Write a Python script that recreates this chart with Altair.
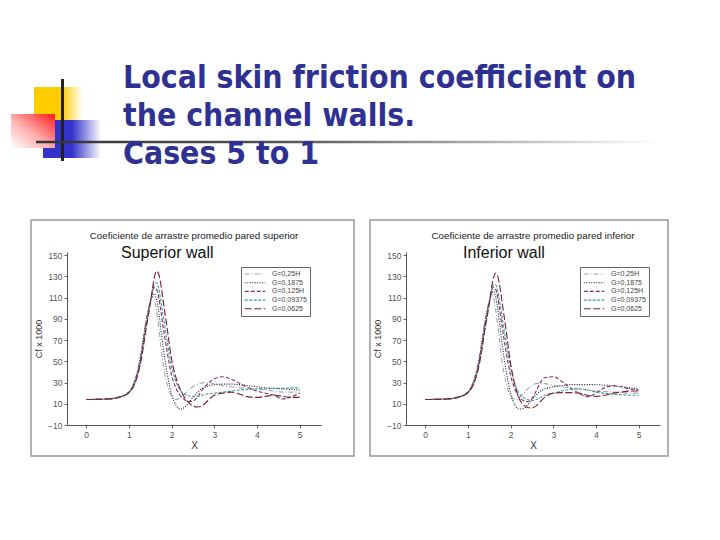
import altair as alt
import pandas as pd

# ---------------- data ----------------
X = [0, 0.5, 0.8, 1.0, 1.1, 1.2, 1.3, 1.4, 1.5, 1.55,
     1.6, 1.65, 1.7, 1.75, 1.8, 1.9, 2.0, 2.1, 2.2, 2.3,
     2.4, 2.5, 2.6, 2.7, 2.8, 3.0, 3.2, 3.4, 3.6, 3.8,
     4.0, 4.2, 4.4, 4.6, 4.8, 5.0]

series_labels = ["G=0,25H", "G=0,1875", "G=0,125H", "G=0,09375", "G=0,0625"]

# Superior wall
sup_g25 = [14, 14.5, 16.5, 21, 28, 41, 62, 88, 106, 111,
           108, 97, 82, 64, 48, 28, 17, 14, 15.5, 19,
           23, 26, 28, 29.5, 30, 29, 27, 26, 25, 24.5,
           24, 23, 22, 21, 21, 21]
sup_g1875 = [14, 14.5, 16.5, 21, 27.5, 40, 61, 87, 106, 112,
             113.5, 108, 96, 80, 64, 38, 19, 9, 5, 6.5,
             11, 16, 20.5, 24, 26, 28, 28.5, 28.5, 28, 27,
             26, 25, 24.5, 24, 23.5, 23]
sup_g125 = [14, 14.5, 16.5, 21, 27, 38, 58, 84, 106, 115,
            120, 118, 110, 97, 83, 58, 37, 25, 18, 14,
            12, 12.5, 16, 22, 27, 33.5, 35.5, 33, 29, 25,
            22, 20, 18, 14.5, 16.5, 20]
sup_g09375 = [14, 14.5, 16.5, 20.5, 26, 37, 56, 82, 105, 116,
              123, 124, 118, 107, 94, 68, 45, 31, 23, 19,
              17.5, 17, 17, 18, 19, 20, 21, 22, 23, 23.5,
              24, 24, 24.5, 24.5, 25, 25]
sup_g0625 = [14, 14.5, 16.5, 20.5, 25.5, 36, 54, 80, 104, 118,
             130, 135, 132, 122, 108, 80, 52, 35, 24, 16,
             11, 8, 7, 7.5, 11, 18, 20, 21, 19, 16.5,
             16, 17, 18, 17, 16, 16]

# Inferior wall
inf_g25 = [14, 14.5, 16.5, 21, 28, 41, 62, 88, 107, 113,
           110, 99, 84, 66, 50, 29, 17, 14, 15.5, 19.5,
           24, 27, 29, 29.5, 29, 27.5, 26, 25, 24, 23,
           22, 21.5, 21, 20.5, 20, 20]
inf_g1875 = [14, 14.5, 16.5, 21, 27.5, 40, 61, 87, 106, 113,
             116, 111, 99, 83, 67, 40, 20, 9, 5, 5.5,
             9, 14, 18.5, 22, 24, 26, 27, 28, 28, 28,
             28, 27.5, 27, 26, 25, 24]
inf_g125 = [14, 14.5, 16.5, 21, 27, 38, 58, 84, 106, 115,
            120, 118, 110, 97, 83, 58, 37, 24, 16, 13,
            12, 15, 22, 30, 34.5, 35.5, 31, 25, 20, 16.5,
            20, 25, 27, 26, 24, 23]
inf_g09375 = [14, 14.5, 16.5, 20.5, 26, 37, 56, 82, 105, 116,
              122, 122, 116, 105, 92, 67, 44, 29, 20, 16,
              14, 13, 14, 16, 18, 20, 22, 23.5, 24, 23,
              21, 20, 19, 18.5, 18, 18]
inf_g0625 = [14, 14.5, 16.5, 20.5, 25.5, 36, 54, 80, 104, 118,
             129, 133, 130, 120, 106, 78, 48, 28, 15, 9,
             6.5, 6, 8, 12, 16, 20, 20.5, 20.5, 20, 18,
             17, 18, 20, 21, 22, 22]

x_ticks = [0, 1, 2, 3, 4, 5]
y_ticks = [-10, 10, 30, 50, 70, 90, 110, 130, 150]

slide_title = "Local skin friction coefficient on\nthe channel walls.\nCases 5 to 1"
sup_title = "Coeficiente de arrastre promedio pared superior"
inf_title = "Coeficiente de arrastre promedio pared inferior"

# ---------------- styles ----------------
line_colors = ["#a3a3b6", "#1a1a1a", "#7a2f6e", "#3f9c9c", "#7a1f2b"]
line_dashes = [[5, 2, 1, 2], [1, 1.5], [4, 2], [3, 1.5], [7, 2.5]]
FONT = "Liberation Sans"
W, H = 254, 173
one = pd.DataFrame({"k": [0]})


def panel(values, title_text, wall_label, label_x, border_right):
    rows = []
    for lab, vals in zip(series_labels, values):
        for xv, v in zip(X, vals):
            rows.append({"x": xv, "cf": v, "G": lab})
    df = pd.DataFrame(rows)

    border = alt.Chart(one).mark_rect(
        fill="white", fillOpacity=0, stroke="#9a9a9a", strokeWidth=1.5
    ).encode(
        x=alt.value(-36), x2=alt.value(W + border_right),
        y=alt.value(-32), y2=alt.value(H + 31),
    )

    leg = alt.Legend(
        title=None, orient="none", legendX=174, legendY=15,
        fillColor="white", strokeColor="#666", padding=3,
        labelFont=FONT, labelFontSize=7, labelColor="#444",
        symbolType="stroke", symbolSize=420, symbolStrokeWidth=1.1,
        clipHeight=8, rowPadding=0.7, labelOffset=6,
    )

    lines = alt.Chart(df).mark_line(strokeWidth=1.1, interpolate="monotone").encode(
        x=alt.X("x:Q", title="X",
                scale=alt.Scale(domain=[-0.45, 5.5], nice=False, zero=False),
                axis=alt.Axis(values=x_ticks, format="d", grid=False, zindex=1,
                              labelFont=FONT, labelFontSize=8.5, labelColor="#555",
                              tickColor="#666", domainColor="#555", tickSize=3,
                              labelPadding=2, titleFont=FONT, titleFontSize=10,
                              titleFontWeight="normal", titleColor="#333",
                              titlePadding=2)),
        y=alt.Y("cf:Q", title="Cf x 1000",
                scale=alt.Scale(domain=[-10, 153], nice=False, zero=False),
                axis=alt.Axis(values=y_ticks, grid=False, zindex=1,
                              labelFont=FONT, labelFontSize=8.5, labelColor="#555",
                              tickColor="#666", domainColor="#555", tickSize=3,
                              labelPadding=2, titleFont=FONT, titleFontSize=9,
                              titleFontWeight="normal", titleColor="#333",
                              titlePadding=4)),
        color=alt.Color("G:N", scale=alt.Scale(domain=series_labels, range=line_colors),
                        legend=leg),
        strokeDash=alt.StrokeDash("G:N", scale=alt.Scale(domain=series_labels, range=line_dashes),
                                  legend=leg),
    )

    label = alt.Chart(one).mark_text(
        align="left", baseline="alphabetic", font=FONT, fontSize=16, color="#111"
    ).encode(x=alt.value(label_x), y=alt.value(6), text=alt.value(wall_label))

    ptitle = alt.Chart(one).mark_text(
        align="center", baseline="alphabetic", font=FONT, fontSize=9.8, color="#222"
    ).encode(x=alt.value(W / 2), y=alt.value(-13), text=alt.value(title_text))

    return alt.layer(border, lines, label, ptitle).properties(width=W, height=H)


left = panel([sup_g25, sup_g1875, sup_g125, sup_g09375, sup_g0625],
             sup_title, "Superior wall", 54, 33)
right = panel([inf_g25, inf_g1875, inf_g125, inf_g09375, inf_g0625],
              inf_title, "Inferior wall", 57, 8)

# ---------------- header (slide title + decoration) ----------------
HW, HH = 594, 120


def grad(stops, x1=0, y1=0, x2=1, y2=0):
    return alt.Gradient(gradient="linear",
                        stops=[alt.GradientStop(color=c, offset=o) for o, c in stops],
                        x1=x1, y1=y1, x2=x2, y2=y2)


yellow = alt.Chart(one).mark_rect(
    fill=grad([(0, "#ffcc00"), (0.55, "#ffcc00"), (1, "#ffffff")])
).encode(x=alt.value(-33), x2=alt.value(16), y=alt.value(36), y2=alt.value(70))
blue = alt.Chart(one).mark_rect(
    fill=grad([(0, "#3333cc"), (0.5, "#3333cc"), (1, "#ffffff")])
).encode(x=alt.value(-24), x2=alt.value(34), y=alt.value(69), y2=alt.value(107))
red = alt.Chart(one).mark_rect(
    fill=grad([(0, "#ff1a1a"), (0.55, "#ffb0b0"), (1, "#ffffff")], x1=1, y1=0, x2=0, y2=1)
).encode(x=alt.value(-56), x2=alt.value(-12), y=alt.value(63), y2=alt.value(97))
vline = alt.Chart(one).mark_rect(fill="#222222").encode(
    x=alt.value(-6), x2=alt.value(-3), y=alt.value(28), y2=alt.value(110))
hline = alt.Chart(one).mark_rect(
    fill=grad([(0, "#333333"), (0.4, "#555555"), (1, "#ffffff")])
).encode(x=alt.value(-31), x2=alt.value(594), y=alt.value(89.7), y2=alt.value(92.3))
title_txt = alt.Chart(one).mark_text(
    align="left", baseline="alphabetic", font="DejaVu Sans Condensed",
    fontWeight="bold", fontSize=31.7, lineBreak="\n", lineHeight=38.3, color="#2e3192"
).encode(x=alt.value(56), y=alt.value(36.7), text=alt.value(slide_title))

header = alt.layer(yellow, blue, red, vline, hline, title_txt).properties(width=HW, height=HH)

chart = alt.vconcat(
    header,
    alt.hconcat(left, right, spacing=12).resolve_scale(
        color="independent", strokeDash="independent", x="independent", y="independent"
    ).resolve_legend(color="independent", strokeDash="independent"),
    spacing=46,
).properties(
    padding={"left": 2, "top": 42, "right": 0, "bottom": 0},
    background="white",
).configure_view(stroke="transparent")

chart.save("out.html", embed_options={"renderer": "svg", "actions": False})
